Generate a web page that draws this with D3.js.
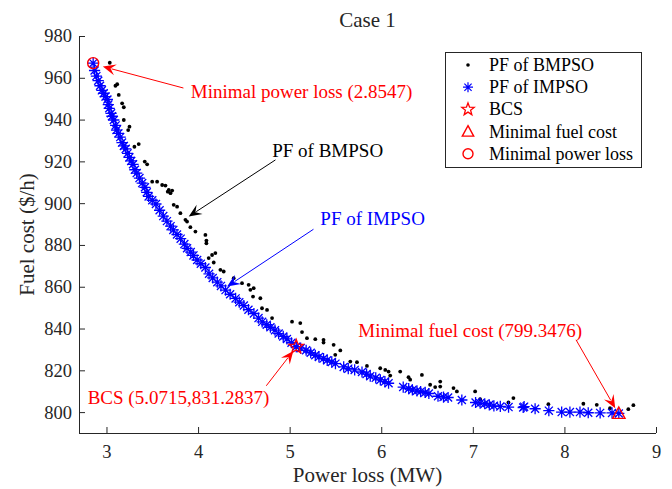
<!DOCTYPE html>
<html>
<head>
<meta charset="utf-8">
<script src="https://cdn.jsdelivr.net/npm/d3@7"></script>
<style>
  html, body { margin: 0; padding: 0; background: #fff; }
  svg text { font-family: "Liberation Serif", "Times New Roman", serif; }
</style>
</head>
<body>
<svg id="chart" width="672" height="489"></svg>
<script>
// Pareto fronts, Case 1: power loss (MW) vs fuel cost ($/h)
const chartTitle = "Case 1";
const xLabel = "Power loss (MW)";
const yLabel = "Fuel cost ($/h)";
const xTicks = [3, 4, 5, 6, 7, 8, 9];
const yTicks = [800, 820, 840, 860, 880, 900, 920, 940, 960, 980];

// PF of IMPSO (power loss, fuel cost)
const impsoLoss = [2.8547,2.87,2.89,2.91,2.93,2.95,2.97,2.99,3.01,3.02,3.03,3.05,3.06,3.08,3.10,3.11,3.13,3.15,3.17,3.19,
  3.21,3.23,3.25,3.27,3.29,3.31,3.33,3.36,3.39,3.42,3.44,3.46,3.50,3.54,3.58,3.62,3.66,3.70,3.73,3.77,
  3.81,3.85,3.88,3.92,3.95,3.99,4.03,4.08,4.12,4.16,4.21,4.25,4.30,4.35,4.41,4.45,4.50,4.55,4.61,4.66,
  4.70,4.75,4.79,4.84,4.88,4.93,4.97,5.02,5.0715,5.12,5.18,5.23,5.28,5.32,5.37,5.41,5.46,5.50,5.59,5.64,
  5.71,5.79,5.84,5.88,5.94,5.99,6.04,6.08,6.24,6.30,6.34,6.39,6.43,6.48,6.52,6.62,6.68,6.73,6.88,7.03,
  7.08,7.13,7.18,7.23,7.30,7.39,7.55,7.56,7.68,7.83,7.97,8.06,8.17,8.26,8.39,8.52,8.594];
const impsoCost = [967.0,963.5,960.8,958.6,956.2,954.0,952.6,951.0,949.6,947.2,945.4,943.0,941.6,939.8,937.2,935.0,933.4,931.6,929.0,927.4,
  926.0,923.8,921.9,920.2,918.6,916.0,914.4,912.0,909.6,907.6,905.2,903.2,901.4,899.6,896.6,893.8,891.4,889.0,887.2,885.0,
  883.0,880.4,878.4,876.6,875.0,872.8,871.0,869.2,866.2,864.2,862.2,860.4,858.4,856.4,854.4,852.6,851.0,849.0,847.2,845.0,
  843.2,841.8,840.6,839.2,837.6,836.2,835.0,833.2,831.2837,830.6,829.6,828.4,827.2,826.4,825.6,824.8,824.0,823.2,821.6,820.8,
  820.2,819.2,818.2,817.2,816.4,815.4,814.6,813.8,812.0,811.2,810.6,810.2,809.8,809.4,808.9,807.6,807.2,807.0,805.8,804.6,
  804.3,804.0,803.5,803.0,802.7,802.4,802.2,802.6,801.6,800.7,800.0,800.0,800.0,799.7,799.6,799.6,799.3476];

// PF of BMPSO (power loss, fuel cost)
const bmpsoLoss = [3.036,3.098,3.117,3.134,3.171,3.189,3.189,3.251,3.237,3.352,3.305,3.418,3.444,3.499,3.553,3.608,3.644,3.680,3.699,3.669,
  3.717,3.734,3.771,3.807,3.862,3.880,3.916,3.971,4.080,4.091,4.091,4.153,4.189,4.116,4.171,4.244,4.280,4.389,4.480,4.552,
  4.571,4.607,4.600,4.680,4.698,4.753,4.808,5.026,5.116,5.135,5.189,5.280,5.370,5.370,5.480,5.553,5.498,5.662,5.735,5.844,
  5.989,6.044,6.080,6.098,6.207,6.298,6.316,6.444,6.534,6.589,6.644,6.644,6.789,6.826,7.025,7.080,7.389,7.443,7.825,8.207,
  8.353,8.498,8.698,8.753];
const bmpsoCost = [967.2,956.2,956.9,951.8,947.8,945.9,939.8,936.6,935.0,928.3,927.0,919.9,918.6,910.3,910.3,908.7,908.4,906.3,904.8,905.5,
  906.0,899.2,898.3,895.2,892.0,891.2,888.5,886.4,884.8,882.1,880.8,875.2,876.1,873.7,871.6,868.1,867.3,864.1,861.7,860.9,
  858.5,859.3,855.3,854.5,849.7,848.9,845.0,843.3,842.6,838.3,835.4,834.9,834.6,833.3,832.2,829.5,827.4,824.2,823.9,822.1,
  821.0,820.2,819.4,817.5,819.4,816.7,815.5,817.8,813.1,812.0,814.6,812.2,811.5,809.9,809.9,806.2,804.6,806.7,803.8,804.0,
  803.5,801.9,801.4,803.3];

// Highlighted solutions
const bcsPoint = [5.0715, 831.2837];
const minFuelPoint = [8.594, 799.3476];
const minLossPoint = [2.8547, 967.0];

// Legend entries
const legendLabels = ["PF of BMPSO", "PF of IMPSO", "BCS", "Minimal fuel cost", "Minimal power loss"];
const legendSymbols = ["dot", "asterisk", "star", "triangle", "circle"];

// Annotations: text anchor, arrow tail and arrow tip, all in data units
const annoText = ["Minimal power loss (2.8547)", "PF of BMPSO", "PF of IMPSO", "Minimal fuel cost (799.3476)", "BCS (5.0715,831.2837)"];
const annoColor = ["#ff0000", "#000000", "#0000ff", "#ff0000", "#ff0000"];
const annoTextPos = [[3.92, 953.6], [4.81, 925.2], [5.335, 892.6], [5.75, 839.2], [2.795, 807.0]];
const annoTail = [[3.84, 955.1], [4.845, 920.7], [5.26, 887.5], [8.127, 834.6], [4.745, 812.6]];
const annoTip = [[2.96, 965.4], [3.898, 893.6], [4.317, 860.1], [8.555, 801.9], [5.04, 829.3]];

const svg = d3.select("#chart");
const margin = { left: 79, right: 16, top: 36, bottom: 56 };
const W = 672, H = 489;

const x = d3.scaleLinear().domain([2.7, 9]).range([margin.left, W - margin.right]);
const y = d3.scaleLinear().domain([790, 980]).range([H - margin.bottom, margin.top]);

const axisColor = "#262626";
const tickFont = 18.5;
const labelFont = 21;
const annoFont = 19;
const legendFont = 18;

// Axes (inward ticks, no box)
const xAxis = svg.append("g")
  .attr("transform", `translate(0,${y(790)})`)
  .call(d3.axisBottom(x).tickValues(xTicks).tickSize(-6).tickPadding(12).tickFormat(d3.format("d")));
const yAxis = svg.append("g")
  .attr("transform", `translate(${x(2.7)},0)`)
  .call(d3.axisLeft(y).tickValues(yTicks).tickSize(-6).tickPadding(7).tickFormat(d3.format("d")));
[xAxis, yAxis].forEach(g => {
  g.select(".domain").attr("stroke", axisColor).attr("stroke-width", 1);
  g.selectAll(".tick line").attr("stroke", axisColor).attr("stroke-width", 1);
  g.selectAll(".tick text").attr("fill", axisColor).attr("font-size", tickFont)
    .attr("font-family", "Liberation Serif, Times New Roman, serif");
});
yAxis.select(".domain").attr("d", `M0.5,${y(790)}V${y(980)}`);
xAxis.select(".domain").attr("d", `M${x(2.7)},0.5H${x(9)}`);

// Title and axis labels
svg.append("text").attr("x", (x(2.7) + x(9)) / 2).attr("y", 27)
  .attr("text-anchor", "middle").attr("font-size", labelFont).attr("fill", axisColor).text(chartTitle);
svg.append("text").attr("x", (x(2.7) + x(9)) / 2).attr("y", 482)
  .attr("text-anchor", "middle").attr("font-size", labelFont).attr("fill", axisColor).text(xLabel);
svg.append("text").attr("transform", `translate(34,${(y(790) + y(980)) / 2}) rotate(-90)`)
  .attr("text-anchor", "middle").attr("font-size", labelFont).attr("fill", axisColor).text(yLabel);

// Marker generators
function asteriskPath(s) {
  const d = s * 0.72;
  return `M${-s},0H${s}M0,${-s}V${s}M${-d},${-d}L${d},${d}M${-d},${d}L${d},${-d}`;
}
function starPath(r) {
  const pts = [];
  for (let i = 0; i < 10; i++) {
    const rr = i % 2 === 0 ? r : r * 0.42;
    const a = -Math.PI / 2 + i * Math.PI / 5;
    pts.push([rr * Math.cos(a), rr * Math.sin(a)]);
  }
  return "M" + pts.map(p => p.join(",")).join("L") + "Z";
}
function trianglePath(s) {
  return `M0,${-s}L${s * 0.95},${s * 0.75}L${-s * 0.95},${s * 0.75}Z`;
}

const bmpso = d3.zip(bmpsoLoss, bmpsoCost);
const impso = d3.zip(impsoLoss, impsoCost);

// BMPSO front
svg.append("g").selectAll("circle").data(bmpso).join("circle")
  .attr("cx", d => x(d[0])).attr("cy", d => y(d[1])).attr("r", 1.9).attr("fill", "#000");

// IMPSO front
svg.append("g").selectAll("path").data(impso).join("path")
  .attr("transform", d => `translate(${x(d[0])},${y(d[1])})`)
  .attr("d", asteriskPath(5.6)).attr("stroke", "#0000ff").attr("stroke-width", 1.3).attr("fill", "none");

// Highlighted solutions
svg.append("path").attr("transform", `translate(${x(bcsPoint[0])},${y(bcsPoint[1])})`)
  .attr("d", starPath(7.5)).attr("stroke", "#ff0000").attr("stroke-width", 1.3).attr("fill", "none");
svg.append("path").attr("transform", `translate(${x(minFuelPoint[0])},${y(minFuelPoint[1])})`)
  .attr("d", trianglePath(6.5)).attr("stroke", "#ff0000").attr("stroke-width", 1.4).attr("fill", "none");
svg.append("circle").attr("cx", x(minLossPoint[0])).attr("cy", y(minLossPoint[1])).attr("r", 5.5)
  .attr("stroke", "#ff0000").attr("stroke-width", 1.4).attr("fill", "none");

// Annotations with arrows
function arrowHead(tip, tail) {
  const dx = tip[0] - tail[0], dy = tip[1] - tail[1];
  const len = Math.hypot(dx, dy);
  const ux = dx / len, uy = dy / len, px = -uy, py = ux;
  const L = 13, Wd = 5.5, notch = 8;
  const bx = tip[0] - ux * L, by = tip[1] - uy * L;
  const nx = tip[0] - ux * notch, ny = tip[1] - uy * notch;
  return `M${tip[0]},${tip[1]}L${bx + px * Wd},${by + py * Wd}L${nx},${ny}L${bx - px * Wd},${by - py * Wd}Z`;
}
annoText.forEach((t, i) => {
  const tail = [x(annoTail[i][0]), y(annoTail[i][1])];
  const tip = [x(annoTip[i][0]), y(annoTip[i][1])];
  const dx = tip[0] - tail[0], dy = tip[1] - tail[1];
  const len = Math.hypot(dx, dy);
  const end = [tip[0] - dx / len * 9, tip[1] - dy / len * 9];
  svg.append("line").attr("x1", tail[0]).attr("y1", tail[1]).attr("x2", end[0]).attr("y2", end[1])
    .attr("stroke", annoColor[i]).attr("stroke-width", 1);
  svg.append("path").attr("d", arrowHead(tip, tail)).attr("fill", annoColor[i]);
  svg.append("text").attr("x", x(annoTextPos[i][0])).attr("y", y(annoTextPos[i][1]))
    .attr("dominant-baseline", "central").attr("font-size", annoFont).attr("fill", annoColor[i]).text(t);
});

// Legend
const legend = svg.append("g").attr("transform", "translate(445,52)");
legend.append("rect").attr("x", 0.5).attr("y", 0.5).attr("width", 196).attr("height", 115)
  .attr("fill", "#fff").attr("stroke", axisColor).attr("stroke-width", 1);
legendLabels.forEach((lab, i) => {
  const cy = 13 + i * 22.2;
  const g = legend.append("g").attr("transform", `translate(23,${cy})`);
  const s = legendSymbols[i];
  if (s === "dot") g.append("circle").attr("r", 1.8).attr("fill", "#000");
  if (s === "asterisk") g.append("path").attr("d", asteriskPath(5)).attr("stroke", "#0000ff").attr("stroke-width", 1.2).attr("fill", "none");
  if (s === "star") g.append("path").attr("d", starPath(6.5)).attr("stroke", "#ff0000").attr("stroke-width", 1.3).attr("fill", "none");
  if (s === "triangle") g.append("path").attr("d", trianglePath(6)).attr("stroke", "#ff0000").attr("stroke-width", 1.4).attr("fill", "none");
  if (s === "circle") g.append("circle").attr("r", 5).attr("stroke", "#ff0000").attr("stroke-width", 1.4).attr("fill", "none");
  legend.append("text").attr("x", 44).attr("y", cy).attr("dominant-baseline", "central")
    .attr("font-size", legendFont).attr("fill", "#000").text(lab);
});
</script>
</body>
</html>
